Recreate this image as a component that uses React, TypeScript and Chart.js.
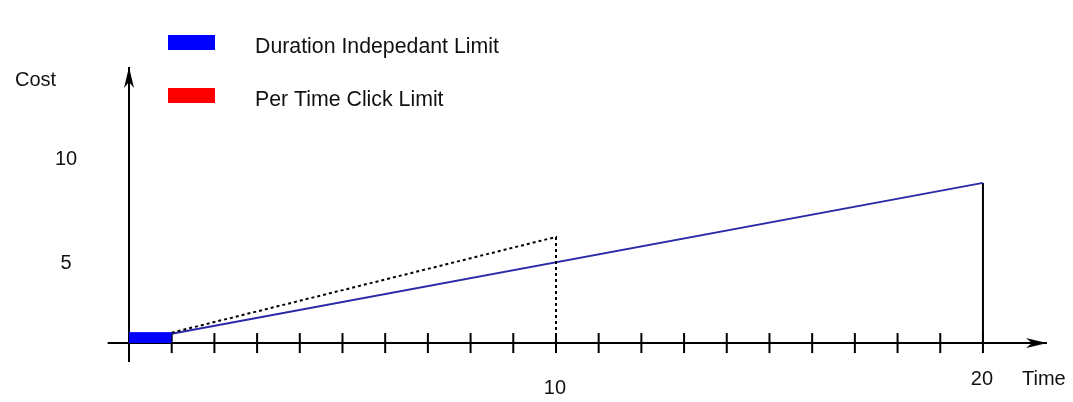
import React, { useEffect, useRef } from "react";
import { Chart, registerables } from "chart.js";

Chart.register(...registerables);

// ---- data ----
const timeTicks = [1, 2, 3, 4, 5, 6, 7, 8, 9, 10, 11, 12, 13, 14, 15, 16, 17, 18, 19, 20];
const timeLabels = [10, 20];
const costLabels = [5, 10];
const baseBlockTime = [0, 1];
const baseBlockCost = [0.5, 0.5];
const durationTime = [1, 20];
const durationCost = [0.45, 7.7];
const perClickTime = [1, 10, 10];
const perClickCost = [0.5, 5.1, 0];
const endDropTime = [20, 20];
const endDropCost = [7.7, 0];
const legendNames = ["Duration Indepedant Limit", "Per Time Click Limit"];
const legendColors = ["#0000ff", "#ff0000"];

const X_MIN = -0.5;
const X_MAX = 21.5;
const Y_MIN = -0.91;
const Y_MAX = 13.27;

const pts = (xs: number[], ys: number[]) => xs.map((x, i) => ({ x, y: ys[i] }));

function makeArrow(len: number, halfW: number, notch: number): HTMLCanvasElement {
  const c = document.createElement("canvas");
  c.width = halfW * 2 + 2;
  c.height = len * 2;
  const ctx = c.getContext("2d")!;
  const cx = c.width / 2;
  ctx.fillStyle = "#000";
  ctx.beginPath();
  ctx.moveTo(cx, len);
  ctx.lineTo(cx + halfW, len * 2);
  ctx.lineTo(cx, len * 2 - notch);
  ctx.lineTo(cx - halfW, len * 2);
  ctx.closePath();
  ctx.fill();
  return c;
}

const FAMILY = "'Liberation Sans', Arial, sans-serif";

const textPlugin = {
  id: "diagramText",
  afterDatasetsDraw(chart: any) {
    const ctx = chart.ctx as CanvasRenderingContext2D;
    const xs = chart.scales.x;
    const ys = chart.scales.y;
    ctx.save();
    ctx.fillStyle = "#111";
    ctx.font = "20px " + FAMILY;
    ctx.textBaseline = "middle";
    // axis titles
    ctx.textAlign = "left";
    ctx.fillText("Cost", 15, 80);
    ctx.fillText("Time", 1022, 379);
    // y tick labels (drawn just below their value)
    ctx.textAlign = "center";
    costLabels.forEach((v) => {
      ctx.fillText(String(v), 66, ys.getPixelForValue(v) + 24);
    });
    // x tick labels
    timeLabels.forEach((v, i) => {
      const y = i === 0 ? 388 : 379;
      ctx.fillText(String(v), xs.getPixelForValue(v) - 1, y);
    });
    // legend
    ctx.font = "21.3px " + FAMILY;
    ctx.textAlign = "left";
    legendNames.forEach((name, i) => {
      const top = 35 + i * 53;
      ctx.fillStyle = legendColors[i];
      ctx.fillRect(168, top, 47, 15);
      ctx.fillStyle = "#111";
      ctx.fillText(name, 255, top + 12);
    });
    ctx.restore();
  },
};

export default function App() {
  const ref = useRef<HTMLCanvasElement | null>(null);
  useEffect(() => {
    if (!ref.current) return;
    const arrow = makeArrow(21, 5, 6);
    const axisStyle = {
      borderColor: "#000",
      borderWidth: 2,
      pointStyle: arrow as any,
      pointRadius: (c: any) => (c.dataIndex === 1 ? 1 : 0),
      pointBackgroundColor: "#000",
      pointBorderWidth: 0,
      fill: false,
      tension: 0,
      clip: false as any,
    };
    const chart = new Chart(ref.current, {
      type: "line",
      data: {
        datasets: [
          {
            label: "base",
            data: pts(baseBlockTime, baseBlockCost),
            borderColor: "#0000ff",
            backgroundColor: "#0000ff",
            borderWidth: 1,
            fill: "origin",
            pointRadius: 0,
          },
          {
            label: "Per Time Click",
            data: pts(perClickTime, perClickCost),
            borderColor: "#000",
            borderWidth: 2,
            borderDash: [3, 3],
            pointRadius: 0,
            fill: false,
          },
          {
            label: "Duration",
            data: pts(durationTime, durationCost),
            borderColor: "#2a2aa8",
            borderWidth: 2,
            pointRadius: 0,
            fill: false,
          },
          {
            label: "end",
            data: pts(endDropTime, endDropCost),
            borderColor: "#000",
            borderWidth: 2,
            pointRadius: 0,
            fill: false,
          },
          {
            label: "xAxis",
            data: [{ x: X_MIN, y: 0 }, { x: X_MAX, y: 0 }],
            ...axisStyle,
            pointRotation: 90,
          },
          {
            label: "yAxis",
            data: [{ x: 0, y: Y_MIN }, { x: 0, y: Y_MAX }],
            ...axisStyle,
            pointRotation: 0,
          },
          {
            label: "ticks",
            data: timeTicks.map((t) => ({ x: t, y: 0 })),
            showLine: false,
            pointStyle: "line",
            pointRotation: 90,
            pointRadius: 10,
            pointBorderWidth: 2,
            pointBorderColor: "#000",
            borderColor: "#000",
            clip: false as any,
          },
        ],
      },
      options: {
        animation: false,
        responsive: false,
        events: [],
        layout: { padding: { left: 107.65, right: 26, top: 67, bottom: 40 } },
        plugins: { legend: { display: false }, tooltip: { enabled: false } },
        scales: {
          x: { type: "linear", display: false, min: X_MIN, max: X_MAX },
          y: { type: "linear", display: false, min: Y_MIN, max: Y_MAX },
        },
      },
      plugins: [textPlugin],
    });
    return () => chart.destroy();
  }, []);
  return (
    <div style={{ position: "fixed", left: 0, top: 0, width: 1073, height: 402, background: "#fff" }}>
      <canvas ref={ref} width={1073} height={402} style={{ width: 1073, height: 402, display: "block" }} />
    </div>
  );
}
